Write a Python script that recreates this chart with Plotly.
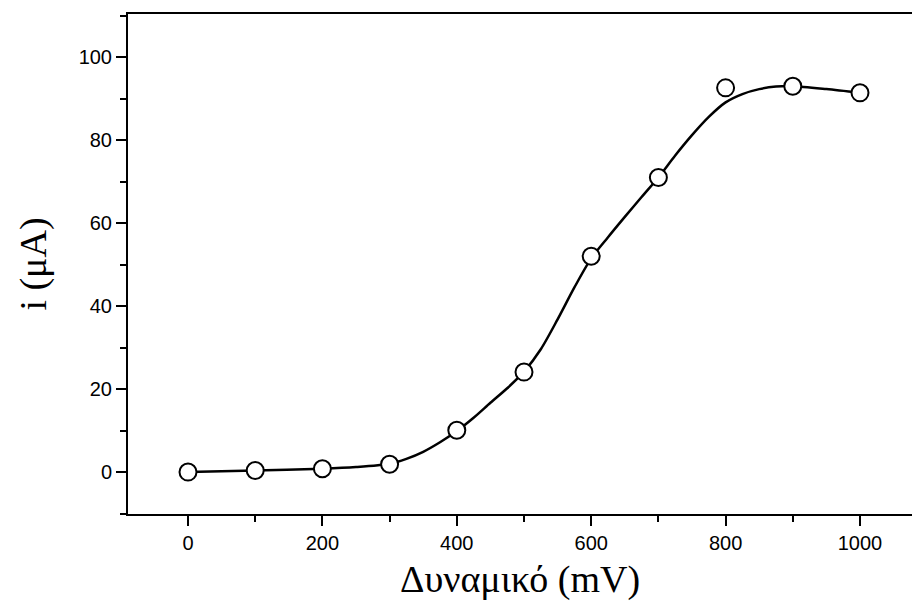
import plotly.graph_objects as go

# measured data points
potential_mv = [0, 100, 200, 300, 400, 500, 600, 700, 800, 900, 1000]
current_ua = [0.0, 0.4, 0.8, 1.9, 10.1, 24.1, 52.0, 71.0, 92.6, 93.0, 91.4]

# smoothed curve
fit_x = [0, 100, 200, 250, 300, 325, 350, 375, 400, 425, 450, 475, 500, 525, 550, 575, 600,
         625, 650, 675, 700, 725, 750, 775, 800, 825, 850, 875, 900, 950, 1000]
fit_y = [0.0, 0.4, 0.8, 1.2, 2.0, 3.2, 4.9, 7.2, 9.9, 13.1, 16.7, 20.2, 24.2, 29.6, 36.8, 44.5, 51.5,
         56.6, 61.5, 66.3, 71.0, 76.3, 81.2, 85.6, 89.1, 91.1, 92.3, 92.9, 93.0, 92.3, 91.4]

x_ticks = [0, 200, 400, 600, 800, 1000]
y_ticks = [0, 20, 40, 60, 80, 100]

fig = go.Figure()
fig.add_trace(go.Scatter(x=fit_x, y=fit_y, mode="lines",
                         line=dict(color="black", width=2.5, shape="spline", smoothing=0.8),
                         hoverinfo="skip", showlegend=False))
fig.add_trace(go.Scatter(x=potential_mv, y=current_ua, mode="markers",
                         marker=dict(symbol="circle", size=17, color="white",
                                     line=dict(color="black", width=2)),
                         showlegend=False))

fig.update_layout(
    width=912, height=608,
    margin=dict(l=128, r=0, t=14, b=94),
    paper_bgcolor="white", plot_bgcolor="white",
    font=dict(family="Liberation Sans, Arial", color="black"),
)
fig.update_xaxes(
    range=[-89.3, 1077.4], tickvals=x_ticks, ticktext=[str(v) for v in x_ticks],
    ticks="outside", ticklen=10, tickwidth=2, tickcolor="black",
    minor=dict(dtick=100, tick0=0, ticks="outside", ticklen=6, tickwidth=2, tickcolor="black"),
    showline=True, linecolor="black", linewidth=2, mirror=True,
    showgrid=False, zeroline=False,
    tickfont=dict(size=20, family="Liberation Sans, Arial"),
    title=dict(text="Δυναμικό (mV)", font=dict(size=38, family="Liberation Serif, Times New Roman"), standoff=12),
)
fig.update_yaxes(
    range=[-10.1, 110.4], tickvals=y_ticks, ticktext=[str(v) for v in y_ticks],
    ticks="outside", ticklen=10, tickwidth=2, tickcolor="black",
    minor=dict(dtick=10, tick0=0, ticks="outside", ticklen=6, tickwidth=2, tickcolor="black"),
    showline=True, linecolor="black", linewidth=2, mirror=False,
    showgrid=False, zeroline=False,
    tickfont=dict(size=20, family="Liberation Sans, Arial"),
    title=dict(text="i (μA)", font=dict(size=38, family="Liberation Serif, Times New Roman"), standoff=20),
)

fig.write_html("out.html")
